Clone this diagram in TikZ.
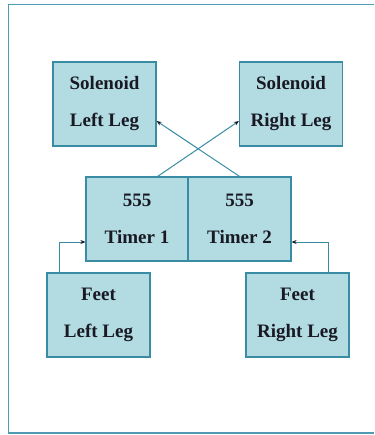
\documentclass[tikz,border=0pt]{standalone}
\usepackage{fontspec}
\setmainfont{Liberation Serif}
\usetikzlibrary{calc,arrows.meta}
\definecolor{boxfill}{RGB}{178,220,226}
\definecolor{boxline}{RGB}{58,140,165}
\definecolor{frameline}{RGB}{80,155,180}
\definecolor{inktext}{RGB}{25,25,35}
\tikzset{
  block/.style={draw=boxline, line width=1.2pt, fill=boxfill, inner sep=0pt,
    minimum width=103pt, minimum height=84pt, align=center, text=inktext,
    font=\bfseries\fontsize{19}{37}\selectfont},
  link/.style={draw=boxline, line width=1pt, -{Stealth[length=5pt,width=4pt,color=inktext]}}
}
\begin{document}
\begin{tikzpicture}[x=1pt,y=-1pt]
  \useasboundingbox (0,0) rectangle (374,435);
  \fill[white] (0,0) rectangle (374,435);
  % outer frame, open to the right
  \draw[frameline, line width=1.5pt] (374,4.5) -- (8.5,4.5) -- (8.5,433) -- (374,433);

  % solenoids
  \node[block] (solL) at (104.5,104) {Solenoid\\Left Leg};
  \node[block] (solR) at (291,104) {Solenoid\\Right Leg};
  % timers
  \node[block, minimum width=102pt] (t1) at (137,219) {555\\Timer 1};
  \node[block, minimum width=103pt] (t2) at (239.5,219) {555\\Timer 2};
  % feet sensors
  \node[block] (feetL) at (98.5,315) {Feet\\Left Leg};
  \node[block] (feetR) at (297.5,315) {Feet\\Right Leg};

  % crossed timer outputs
  \coordinate (t1out) at ($(t1.north west)!0.7!(t1.north east)$);
  \coordinate (solRin) at ($(solR.south west)!0.3!(solR.north west)$);
  \coordinate (solLin) at ($(solL.south east)!0.3!(solL.north east)$);
  \draw[link] (t1out) -- (solRin);
  \draw[link] (t2.north) -- (solLin);

  % feet inputs
  \coordinate (feetLtop) at ($(feetL.north west)!0.125!(feetL.north east)$);
  \coordinate (feetRtop) at ($(feetR.north west)!0.8!(feetR.north east)$);
  \coordinate (t1in) at ($(t1.south west)!0.23!(t1.north west)$);
  \coordinate (t2in) at ($(t2.south east)!0.23!(t2.north east)$);
  \draw[link] (feetLtop) |- (t1in);
  \draw[link] (feetRtop) |- (t2in);
\end{tikzpicture}
\end{document}
